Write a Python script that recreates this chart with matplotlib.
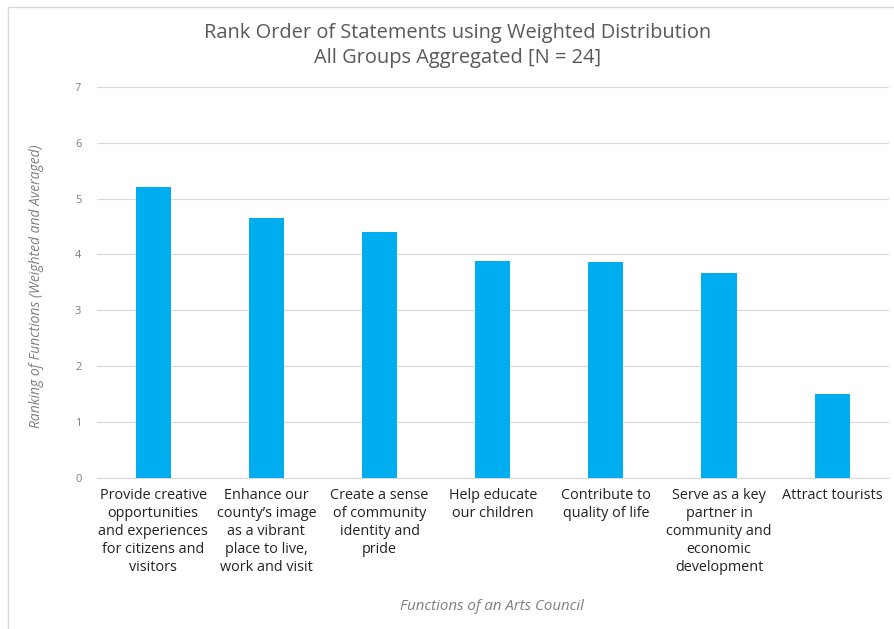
import matplotlib.pyplot as plt
from matplotlib.patches import Rectangle

# Data
categories = [
    "Provide creative\nopportunities\nand experiences\nfor citizens and\nvisitors",
    "Enhance our\ncounty\u2019s image\nas a vibrant\nplace to live,\nwork and visit",
    "Create a sense\nof community\nidentity and\npride",
    "Help educate\nour children",
    "Contribute to\nquality of life",
    "Serve as a key\npartner in\ncommunity and\neconomic\ndevelopment",
    "Attract tourists",
]
scores = [5.21, 4.65, 4.40, 3.88, 3.86, 3.66, 1.50]
y_ticks = [0, 1, 2, 3, 4, 5, 6, 7]

FONT = "Open Sans"
BAR_COLOR = "#00AEEF"

fig = plt.figure(figsize=(8.95, 6.29), dpi=100)
fig.patch.set_facecolor("white")
ax = fig.add_axes([0.108, 0.240, 0.885, 0.622])

x = range(len(categories))
ax.bar(x, scores, width=0.31, color=BAR_COLOR, zorder=3)

ax.set_xlim(-0.5, len(categories) - 0.5)
ax.set_ylim(0, 7)
ax.set_yticks(y_ticks)
ax.set_yticklabels([str(t) for t in y_ticks], fontsize=8, color="#7f7f7f", family=FONT)
ax.yaxis.grid(True, color="#d9d9d9", linewidth=0.9, zorder=0)
ax.tick_params(axis="y", length=0, pad=11)
ax.tick_params(axis="x", length=0, pad=7)
ax.set_xticks(list(x))
ax.set_xticklabels(categories, fontsize=10.4, color="#222222", family=FONT,
                   linespacing=1.28, va="top")
for side in ["top", "right", "left"]:
    ax.spines[side].set_visible(False)
ax.spines["bottom"].set_color("#d9d9d9")

ax.set_ylabel("Ranking of Functions (Weighted and Averaged)", fontsize=10,
              color="#7f7f7f", style="italic", family=FONT)
ax.yaxis.set_label_coords(-0.066, 0.49)

fig.text(0.55, 1 - 607 / 629, "Functions of an Arts Council", fontsize=10.8,
         color="#7f7f7f", style="italic", family=FONT, ha="center", va="center")

fig.text(0.511, 0.947, "Rank Order of Statements using Weighted Distribution",
         fontsize=14.4, color="#595959", family=FONT, ha="center", va="center")
fig.text(0.511, 0.907, "All Groups Aggregated [N = 24]",
         fontsize=14.4, color="#595959", family=FONT, ha="center", va="center")

# light chart border
fig.patches.append(Rectangle((8 / 895, -0.05), 1.2, 1 - 7 / 629 + 0.05,
                             transform=fig.transFigure, fill=False,
                             edgecolor="#d9d9d9", linewidth=1))

fig.savefig("out.png", dpi=100, facecolor="white")
